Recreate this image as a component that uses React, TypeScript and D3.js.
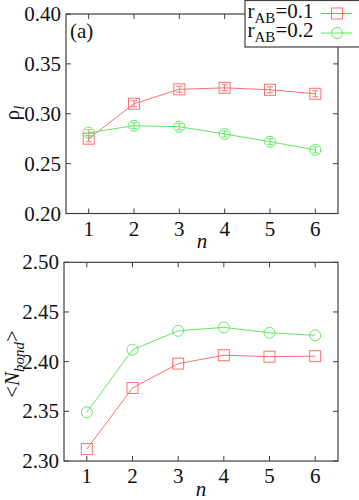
import React from "react";
import * as d3 from "d3";

const nValues = [1, 2, 3, 4, 5, 6];
const rhoRAB01 = [0.275, 0.310, 0.3245, 0.326, 0.324, 0.320];
const rhoRAB02 = [0.281, 0.288, 0.287, 0.2797, 0.272, 0.2637];
const rhoErr01 = [0.003, 0.003, 0.003, 0.003, 0.003, 0.003];
const rhoErr02 = [0.003, 0.003, 0.003, 0.003, 0.003, 0.003];
const nbondRAB01 = [2.312, 2.3735, 2.398, 2.4065, 2.405, 2.4055];
const nbondRAB02 = [2.349, 2.412, 2.431, 2.4345, 2.429, 2.4265];
const rhoTicks = [0.2, 0.25, 0.3, 0.35, 0.4];
const nbondTicks = [2.3, 2.35, 2.4, 2.45, 2.5];
const legendLabels = ["0.1", "0.2"];

const RED = "#ff6f6f";
const GREEN = "#62e862";
const FRAME = "#404040";
const FONT = "'Liberation Serif', 'DejaVu Serif', serif";

type PanelProps = {
  left: number; right: number; top: number; bottom: number;
  yDomain: [number, number]; yTicks: number[];
  red: number[]; green: number[];
  redErr?: number[]; greenErr?: number[];
  ylabel: React.ReactNode; ylabelX: number; ylabelY: number;
  xlabelY: number;
  legend?: boolean;
  tag?: string;
};

function Square({ x, y, c }: { x: number; y: number; c: string }) {
  return <rect x={x - 5.5} y={y - 5.5} width={11} height={11} fill="none" stroke={c} strokeWidth={1} />;
}
function Circ({ x, y, c }: { x: number; y: number; c: string }) {
  return <circle cx={x} cy={y} r={5.5} fill="none" stroke={c} strokeWidth={1} />;
}

function Panel(p: PanelProps) {
  const x = d3.scaleLinear().domain([0.5, 6.5]).range([p.left, p.right]);
  const y = d3.scaleLinear().domain(p.yDomain).range([p.bottom, p.top]);
  const line = d3.line<number>().x((_, i) => x(nValues[i])).y((d) => y(d));
  const tl = 5;
  const errBars = (vals: number[], errs: number[] | undefined, c: string) =>
    errs
      ? vals.map((v, i) => {
          const cx = x(nValues[i]);
          const y1 = y(v - errs[i]);
          const y2 = y(v + errs[i]);
          return (
            <g key={"e" + i} stroke={c} strokeWidth={1}>
              <line x1={cx} x2={cx} y1={y1} y2={y2} />
              <line x1={cx - 3} x2={cx + 3} y1={y1} y2={y1} />
              <line x1={cx - 3} x2={cx + 3} y1={y2} y2={y2} />
            </g>
          );
        })
      : null;
  return (
    <g fontFamily={FONT}>
      <g stroke={FRAME} strokeWidth={1}>
        {p.yTicks.map((t) => (
          <g key={"yt" + t}>
            <line x1={p.left} x2={p.left + tl} y1={y(t)} y2={y(t)} />
            <line x1={p.right} x2={p.right - tl} y1={y(t)} y2={y(t)} />
          </g>
        ))}
        {nValues.map((n) => (
          <g key={"xt" + n}>
            <line x1={x(n)} x2={x(n)} y1={p.bottom} y2={p.bottom - tl} />
            <line x1={x(n)} x2={x(n)} y1={p.top} y2={p.top + tl} />
          </g>
        ))}
      </g>
      <path d={line(p.red) || ""} fill="none" stroke={RED} strokeWidth={1} />
      <path d={line(p.green) || ""} fill="none" stroke={GREEN} strokeWidth={1} />
      {errBars(p.red, p.redErr, RED)}
      {errBars(p.green, p.greenErr, GREEN)}
      {p.red.map((v, i) => <Square key={"r" + i} x={x(nValues[i])} y={y(v)} c={RED} />)}
      {p.green.map((v, i) => <Circ key={"g" + i} x={x(nValues[i])} y={y(v)} c={GREEN} />)}
      <rect x={p.left} y={p.top} width={p.right - p.left} height={p.bottom - p.top} fill="none" stroke={FRAME} strokeWidth={1.2} />
      <g fontSize={21} fill="#111">
        {p.yTicks.map((t) => (
          <text key={"yl" + t} x={p.left - 5} y={y(t) + 7} textAnchor="end">{t.toFixed(2)}</text>
        ))}
        {nValues.map((n) => (
          <text key={"xl" + n} x={x(n)} y={p.bottom + 22} textAnchor="middle">{n}</text>
        ))}
        <text x={(p.left + p.right) / 2} y={p.xlabelY} textAnchor="middle" fontStyle="italic">n</text>
        <text transform={`translate(${p.ylabelX},${p.ylabelY}) rotate(-90)`} textAnchor="middle">{p.ylabel}</text>
        {p.tag ? <text x={p.left + 4} y={p.top + 24}>{p.tag}</text> : null}
      </g>
      {p.legend ? (
        <g>
          <rect x={245} y={0.5} width={130} height={46.5} fill="white" stroke={FRAME} strokeWidth={1.2} />
          {legendLabels.map((lab, i) => {
            const ly = 13.5 + i * 19.5;
            const c = i === 0 ? RED : GREEN;
            return (
              <g key={"lg" + i} fill="#111">
                <text x={247.5} y={ly + 4} fontSize={21}>r</text>
                <text x={254.5} y={ly + 9} fontSize={15}>AB</text>
                <text x={275.5} y={ly + 4} fontSize={21}>={lab}</text>
                <line x1={321} x2={352} y1={ly} y2={ly} stroke={c} strokeWidth={1} />
                {i === 0 ? <Square x={337} y={ly} c={c} /> : <Circ x={337} y={ly} c={c} />}
              </g>
            );
          })}
        </g>
      ) : null}
    </g>
  );
}

export default function App() {
  return (
    <svg width={359} height={500} style={{ position: "absolute", left: 0, top: 0, background: "white" }}>
      <rect width={359} height={500} fill="white" />
      <Panel
        left={66} right={338} top={14} bottom={213.5}
        yDomain={[0.2, 0.4]} yTicks={rhoTicks}
        red={rhoRAB01} green={rhoRAB02} redErr={rhoErr01} greenErr={rhoErr02}
        ylabel={<>ρ<tspan fontSize={15} dy={5} fontStyle="italic">l</tspan></>}
        ylabelX={19} ylabelY={113}
        xlabelY={248}
        legend tag="(a)"
      />
      <Panel
        left={64} right={338} top={262.3} bottom={461}
        yDomain={[2.3, 2.5]} yTicks={nbondTicks}
        red={nbondRAB01} green={nbondRAB02}
        ylabel={<>&lt;<tspan fontStyle="italic">N</tspan><tspan fontSize={15} dy={5} fontStyle="italic">bond</tspan><tspan dy={-5}>&gt;</tspan></>}
        ylabelX={19} ylabelY={364}
        xlabelY={496}
      />
    </svg>
  );
}
